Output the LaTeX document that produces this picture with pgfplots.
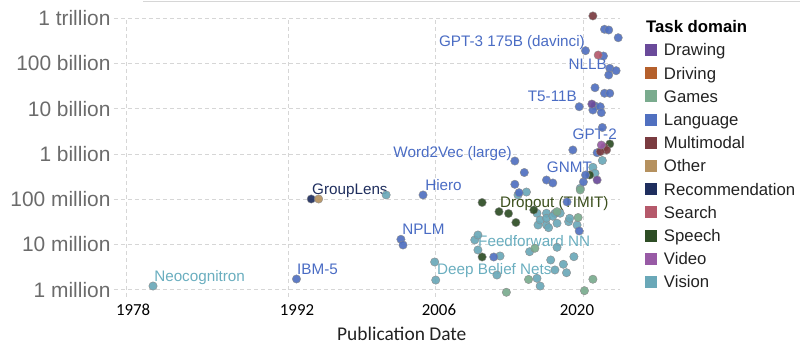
\documentclass[border=0pt]{standalone}
\usepackage{pgfplots}
\pgfplotsset{compat=1.18}
\usepackage{pgfplotstable}
\usepackage{fontspec}
\setmainfont{Liberation Sans}
\newfontfamily\carlito{Carlito}
\definecolor{cDrawing}{HTML}{6A4A9A}
\definecolor{cDriving}{HTML}{B5602C}
\definecolor{cGames}{HTML}{7AAB8E}
\definecolor{cLanguage}{HTML}{5070C0}
\definecolor{cMultimodal}{HTML}{7A3B40}
\definecolor{cOther}{HTML}{B5915F}
\definecolor{cRecommendation}{HTML}{1F2E5E}
\definecolor{cSearch}{HTML}{B5596B}
\definecolor{cSpeech}{HTML}{2E4D25}
\definecolor{cVideo}{HTML}{985AA5}
\definecolor{cVision}{HTML}{6AA8B8}
\definecolor{tickgray}{HTML}{6B6B6B}
\definecolor{gridgray}{HTML}{D6D6D6}
\definecolor{ptedge}{HTML}{8C8C8C}
\definecolor{legtext}{HTML}{222222}
\definecolor{lblLang}{HTML}{4A6CC4}
\definecolor{lblVision}{HTML}{6AAEBF}
\definecolor{lblRec}{HTML}{1F2E5E}
\definecolor{lblSpeech}{HTML}{3B4F1C}

\pgfplotstableread{
x y
1979.2 1.21e6
2001.3 1.24e8
2005.9 4.11e6
2006.0 1.64e6
2009.7 1.26e7
2010.0 1.62e7
2010.0 7.57e6
2012.1 5.57e6
2011.8 2.12e6
2014.6 1.44e8
2013.8 1.24e8
2015.6 4.89e7
2016.5 4.89e7
2017.3 4.89e7
2017.8 4.89e7
2015.7 2.69e7
2016.5 2.69e7
2017.5 2.94e7
2015.9 3.47e7
2016.5 3.79e7
2017.1 4.20e7
2016.7 2.35e7
2018.6 3.19e7
2018.7 3.79e7
2019.4 2.69e7
2014.9 6.93e6
2017.5 8.67e6
2016.9 4.55e6
2018.1 3.66e6
2019.1 5.38e6
2018.4 2.38e6
2017.3 2.74e6
2015.6 1.79e6
2015.9 1.21e6
2021.8 7.15e8
2020.9 5.06e8
2021.1 3.73e8
2019.7 1.74e8
}\tblVision

\pgfplotstableread{
x y
2014.8 1.69e6
2012.7 8.81e5
2020.1 9.55e5
2020.9 1.71e6
2015.4 8.24e6
2019.5 3.94e7
2017.5 5.30e7
2019.7 1.60e8
}\tblGames

\pgfplotstableread{
x y
2010.4 8.45e7
2012.0 5.30e7
2012.9 4.83e7
2013.6 3.06e7
2010.4 5.30e6
2022.5 1.66e9
2020.6 3.42e8
2015.3 5.78e7
}\tblSpeech

\pgfplotstableread{
x y
1992.8 1.73e6
2002.7 1.30e7
2002.9 9.75e6
2004.8 1.24e8
2011.5 5.30e6
2013.5 6.97e8
2014.4 3.88e8
2013.5 2.13e8
2016.5 2.65e8
2017.1 2.28e8
2013.9 1.39e8
2019.6 1.99e7
2018.45 8.70e7
2020.0 2.40e8
2020.2 3.42e8
2021.3 1.06e9
2019.0 1.22e9
2021.8 3.83e9
2019.6 1.10e10
2021.1 1.14e10
2021.6 1.10e10
2021.7 8.12e9
2020.9 9.31e9
2022.0 2.18e10
2022.5 2.18e10
2021.1 2.89e10
2020.2 1.90e11
2021.9 1.45e11
2022.5 7.76e10
2023.1 6.87e10
2022.4 5.52e10
2022.0 5.63e11
2022.4 5.43e11
2023.3 3.67e11
}\tblLanguage

\pgfplotstableread{
x y
2020.9 1.11e12
2022.0 1.40e9
2022.2 1.22e9
2021.6 1.12e9
}\tblMultimodal

\pgfplotstableread{
x y
2021.4 1.52e11
}\tblSearch

\pgfplotstableread{
x y
2020.8 1.26e10
2021.3 2.65e8
}\tblDrawing

\pgfplotstableread{
x y
2021.7 1.57e9
}\tblVideo

\pgfplotstableread{
x y
1994.2 1.01e8
}\tblRecommendation

\pgfplotstableread{
x y
1994.9 1.01e8
}\tblOther

\pgfplotsset{
  dom/.style={only marks, mark=*, mark size=4.2bp, forget plot,
    mark options={fill=#1, draw=ptedge, line width=0.4bp, fill opacity=0.92}},
}
\tikzset{
  lbl/.style={font=\fontsize{15.3}{17}\selectfont, inner sep=0pt, text=#1},
  xtl/.style={anchor=base, font=\carlito\fontsize{16.9}{19}\selectfont, text=black, yshift=-18.7bp},
}

\begin{document}
\begin{tikzpicture}
\path[use as bounding box] (-114bp,-64bp) rectangle (686bp,297bp);
\draw[color=gridgray, line width=0.8bp] (29bp,295.5bp) -- (686bp,295.5bp);
\begin{axis}[
  at={(0,0)}, anchor=south west,
  scale only axis, width=506bp, height=279bp,
  xmin=1975.5, xmax=2023.47,
  ymode=log, ymin=6.93e5, ymax=1e12,
  clip=false,
  axis line style={draw=none},
  tick style={draw=none},
  xtick={1976.7,1992,2006,2020}, xticklabels={},
  ytick={1e6,1e7,1e8,1e9,1e10,1e11,1e12},
  yticklabels={1 million,10 million,100 million,1 billion,10 billion,100 billion,1 trillion},
  yticklabel style={font=\fontsize{21}{24}\selectfont, text=tickgray},
  grid=major,
  grid style={dash pattern=on 4bp off 3bp, color=gridgray, line width=0.7bp},
  legend style={at={(1.0494,0.9269)}, anchor=north west, draw=none, fill=none,
    inner sep=0pt, outer sep=0pt, row sep=0pt, column sep=7bp,
    font=\fontsize{16.8}{19}\selectfont, text=legtext,
    nodes={inner sep=0pt, text height=17.6bp, text depth=5.6bp}},
  legend cell align=left,
  legend image code/.code={\fill[#1] (0bp,-6bp) rectangle (12bp,6bp);},
]
\addplot[dom=cVision] table {\tblVision};
\addplot[dom=cGames] table {\tblGames};
\addplot[dom=cSpeech] table {\tblSpeech};
\addplot[dom=cLanguage] table {\tblLanguage};
\addplot[dom=cMultimodal] table {\tblMultimodal};
\addplot[dom=cSearch] table {\tblSearch};
\addplot[dom=cDrawing] table {\tblDrawing};
\addplot[dom=cVideo] table {\tblVideo};
\addplot[dom=cRecommendation] table {\tblRecommendation};
\addplot[dom=cOther] table {\tblOther};

\addlegendimage{draw=none, fill=cDrawing}\addlegendentry{Drawing}
\addlegendimage{draw=none, fill=cDriving}\addlegendentry{Driving}
\addlegendimage{draw=none, fill=cGames}\addlegendentry{Games}
\addlegendimage{draw=none, fill=cLanguage}\addlegendentry{Language}
\addlegendimage{draw=none, fill=cMultimodal}\addlegendentry{Multimodal}
\addlegendimage{draw=none, fill=cOther}\addlegendentry{Other}
\addlegendimage{draw=none, fill=cRecommendation}\addlegendentry{Recommendation}
\addlegendimage{draw=none, fill=cSearch}\addlegendentry{Search}
\addlegendimage{draw=none, fill=cSpeech}\addlegendentry{Speech}
\addlegendimage{draw=none, fill=cVideo}\addlegendentry{Video}
\addlegendimage{draw=none, fill=cVision}\addlegendentry{Vision}

% point labels
\node[lbl=lblLang, anchor=base east] at (axis cs:2020.15,2.35e11) {GPT-3 175B (davinci)};
\node[lbl=lblLang, anchor=base east] at (axis cs:2022.24,7.29e10) {NLLB};
\node[lbl=lblLang, anchor=base east] at (axis cs:2019.39,1.44e10) {T5-11B};
\node[lbl=lblLang, anchor=base east] at (axis cs:2023.18,2.08e9) {GPT-2};
\node[lbl=lblLang, anchor=base east] at (axis cs:2013.23,8.32e8) {Word2Vec (large)};
\node[lbl=lblLang, anchor=base east] at (axis cs:2020.82,3.88e8) {GNMT};
\node[lbl=lblRec, anchor=base west] at (axis cs:1994.27,1.27e8) {GroupLens};
\node[lbl=lblLang, anchor=base west] at (axis cs:2004.99,1.56e8) {Hiero};
\node[lbl=lblLang, anchor=base west] at (axis cs:2002.81,1.66e7) {NPLM};
\node[lbl=lblLang, anchor=base west] at (axis cs:1992.85,2.18e6) {IBM-5};
\node[lbl=lblVision, anchor=base west] at (axis cs:1979.3,1.52e6) {Neocognitron};
\node[lbl=lblSpeech, anchor=base west] at (axis cs:2012.09,6.56e7) {Dropout (TIMIT)};
\node[lbl=lblVision, anchor=base west] at (axis cs:2010.01,9.04e6) {Feedforward NN};
\node[lbl=lblVision, anchor=base west] at (axis cs:2006.12,2.23e6) {Deep Belief Nets};

% x tick labels and axis title
\node[xtl] at (axis cs:1977.31,6.93e5) {1978};
\node[xtl] at (axis cs:1992.85,6.93e5) {1992};
\node[xtl] at (axis cs:2006.31,6.93e5) {2006};
\node[xtl] at (axis cs:2019.39,6.93e5) {2020};
\node[anchor=base west, font=\carlito\fontsize{19.5}{22}\selectfont, text=legtext, inner sep=0pt, yshift=-43.7bp] at (axis cs:1996.64,6.93e5) {Publication Date};
% legend title
\node[anchor=base west, inner sep=0pt, font=\bfseries\fontsize{16.8}{19}\selectfont, text=black] at (axis cs:2025.93,4.67e11) {Task domain};
\end{axis}
\end{tikzpicture}
\end{document}
